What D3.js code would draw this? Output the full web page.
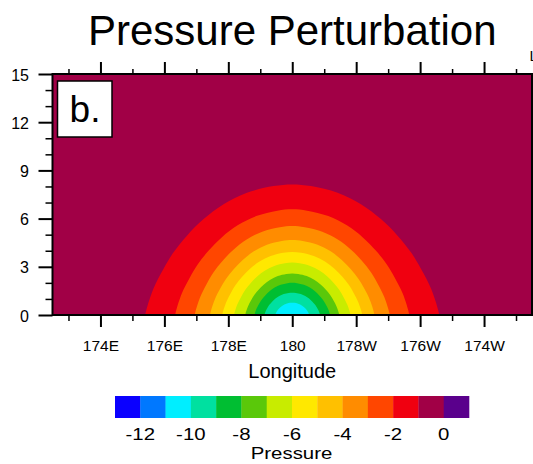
<!DOCTYPE html>
<html>
<head>
<meta charset="utf-8">
<script src="https://cdn.jsdelivr.net/npm/d3@7"></script>
<style>
  html, body { margin: 0; padding: 0; background: #fff; }
  svg { display: block; }
  text { font-family: "Liberation Sans", Arial, Helvetica, sans-serif; fill: #000; }
</style>
</head>
<body>
<script>
// ---------------- DATA ----------------
const titleText = "Pressure Perturbation";
const panelLabel = "b.";
const xTitle = "Longitude";
const cbTitle = "Pressure";

// longitude axis (degrees east, 180 = dateline), height axis (km)
const lonDomain = [172.5, 187.5];
const lonMajorTicks = [174, 176, 178, 180, 182, 184, 186];
const lonMinorTicks = [173, 175, 177, 179, 181, 183, 185, 187];
const hgtDomain = [0, 15];
const hgtMajorTicks = [0, 3, 6, 9, 12, 15];
const hgtMinorTicks = [1, 2, 4, 5, 7, 8, 10, 11, 13, 14];

// colour bar levels and colours
const cbLevels = [-12, -11, -10, -9, -8, -7, -6, -5, -4, -3, -2, -1, 0];
const cbLabelLevels = [-12, -10, -8, -6, -4, -2, 0];
const cbColors = ["#0a00ff", "#0078ff", "#00eeff", "#00e0a0", "#00be32", "#5ac80a",
                  "#c8ec00", "#ffe800", "#ffc000", "#ff8c00", "#ff4600", "#f00010",
                  "#a10046", "#5a008c"];

// pressure-perturbation contours centred on 180 at the surface
const contourLevels = [-1, -2, -3, -4, -5, -6, -7, -8, -9, -10];
const contourHalfWidth = [4.60, 3.66, 3.05, 2.57, 2.19, 1.82, 1.47, 1.18, 0.87, 0.53]; // degrees
const contourTop = [8.13, 6.58, 5.54, 4.67, 3.92, 3.26, 2.59, 2.01, 1.39, 0.77];      // km
const contourCenterLon = 180;
// normalised shape of one contour (half-width fraction vs. height fraction)
const profileX = [1.0, 0.945, 0.875, 0.807, 0.716, 0.603, 0.467, 0.308, 0.127, 0.0];
const profileY = [0.0, 0.20, 0.355, 0.48, 0.607, 0.734, 0.848, 0.936, 0.987, 1.0];

// ---------------- DRAWING ----------------
const W = 533, H = 464;
const svg = d3.select("body").append("svg").attr("width", W).attr("height", H);

const L = 52.5, R = 532, T = 74, B = 315;
const x = d3.scaleLinear().domain(lonDomain).range([L, R]);
const y = d3.scaleLinear().domain(hgtDomain).range([B, T]);
const color = d3.scaleThreshold().domain(cbLevels).range(cbColors);

const fmtLon = v => v === 180 ? "180" : (v < 180 ? v + "E" : (360 - v) + "W");

// title
svg.append("text").attr("x", (L + R) / 2).attr("y", 45)
  .attr("text-anchor", "middle").style("font-size", "42px").text(titleText);
// clipped right string
svg.append("text").attr("x", 529.5).attr("y", 61)
  .style("font-size", "15px").text("L");

// plot area
svg.append("clipPath").attr("id", "clip").append("rect")
  .attr("x", L).attr("y", T).attr("width", R - L).attr("height", B - T);
const plot = svg.append("g").attr("clip-path", "url(#clip)");

plot.append("rect").attr("x", L).attr("y", T).attr("width", R - L).attr("height", B - T)
  .attr("fill", color(-0.5));

const line = d3.line().curve(d3.curveCatmullRom.alpha(0.5));
contourLevels.forEach((lev, i) => {
  const hw = contourHalfWidth[i], ht = contourTop[i];
  const left = profileX.map((px, j) => [x(contourCenterLon - hw * px), y(ht * profileY[j])]);
  const right = profileX.slice(0, -1).map((px, j) => [x(contourCenterLon + hw * px), y(ht * profileY[j])]).reverse();
  const pts = [[left[0][0], y(-0.3)]].concat(left, right, [[right[right.length - 1][0], y(-0.3)]]);
  plot.append("path").attr("d", line(pts) + "Z").attr("fill", color(lev - 0.5));
});

// axes ticks
const tickStyle = g => { g.select(".domain").remove(); g.selectAll(".tick line").attr("stroke", "#000").attr("stroke-width", 2); };
svg.append("g").attr("transform", `translate(0,${B})`)
  .call(d3.axisBottom(x).tickValues(lonMajorTicks).tickSize(12).tickFormat(fmtLon))
  .call(tickStyle)
  .call(g => g.selectAll(".tick text").attr("y", 0).attr("dy", "36px")
    .style("font-size", "15.5px").style("font-family", "'Liberation Sans', Arial, sans-serif"));
svg.append("g").attr("transform", `translate(0,${B})`)
  .call(d3.axisBottom(x).tickValues(lonMinorTicks).tickSize(6).tickFormat(""))
  .call(tickStyle).call(g => g.selectAll(".tick line").attr("stroke-width", 1.5));
svg.append("g").attr("transform", `translate(0,${T})`)
  .call(d3.axisTop(x).tickValues(lonMajorTicks).tickSize(12).tickFormat(""))
  .call(tickStyle);
svg.append("g").attr("transform", `translate(0,${T})`)
  .call(d3.axisTop(x).tickValues(lonMinorTicks).tickSize(5).tickFormat(""))
  .call(tickStyle).call(g => g.selectAll(".tick line").attr("stroke-width", 1.5));
svg.append("g").attr("transform", `translate(${L},0)`)
  .call(d3.axisLeft(y).tickValues(hgtMajorTicks).tickSize(14).tickFormat(d3.format("d")))
  .call(tickStyle)
  .call(g => g.selectAll(".tick text").attr("x", -23.5).attr("dy", "6px")
    .style("font-size", "16px").style("font-family", "'Liberation Sans', Arial, sans-serif"));
svg.append("g").attr("transform", `translate(${L},0)`)
  .call(d3.axisLeft(y).tickValues(hgtMinorTicks).tickSize(7).tickFormat(""))
  .call(tickStyle).call(g => g.selectAll(".tick line").attr("stroke-width", 1.5));
svg.selectAll(".tick text").attr("fill", "#000");

// frame
svg.append("rect").attr("x", L).attr("y", T).attr("width", R - L).attr("height", B - T)
  .attr("fill", "none").attr("stroke", "#000").attr("stroke-width", 2);

// panel label
svg.append("rect").attr("x", 57.5).attr("y", 81).attr("width", 54.5).attr("height", 56)
  .attr("fill", "#fff").attr("stroke", "#000").attr("stroke-width", 1.5);
svg.append("text").attr("x", 85).attr("y", 122).attr("text-anchor", "middle")
  .style("font-size", "37px").text(panelLabel);

// x title
svg.append("text").attr("x", (L + R) / 2).attr("y", 378).attr("text-anchor", "middle")
  .style("font-size", "20px").text(xTitle);

// colour bar
const cbx = d3.scaleLinear().domain([0, cbColors.length]).range([115, 469]);
svg.append("g").selectAll("rect").data(cbColors).join("rect")
  .attr("x", (d, i) => cbx(i)).attr("y", 396)
  .attr("width", (d, i) => cbx(i + 1) - cbx(i) + 0.3).attr("height", 22)
  .attr("fill", d => d);
svg.append("g").selectAll("text").data(cbLabelLevels).join("text")
  .attr("transform", d => `translate(${cbx(cbLevels.indexOf(d) + 1)},440) scale(1.2,1)`)
  .attr("text-anchor", "middle").style("font-size", "17px").text(d => String(d));
svg.append("text").attr("transform", "translate(291.5,459) scale(1.2,1)")
  .attr("text-anchor", "middle").style("font-size", "17px").text(cbTitle);
</script>
</body>
</html>
